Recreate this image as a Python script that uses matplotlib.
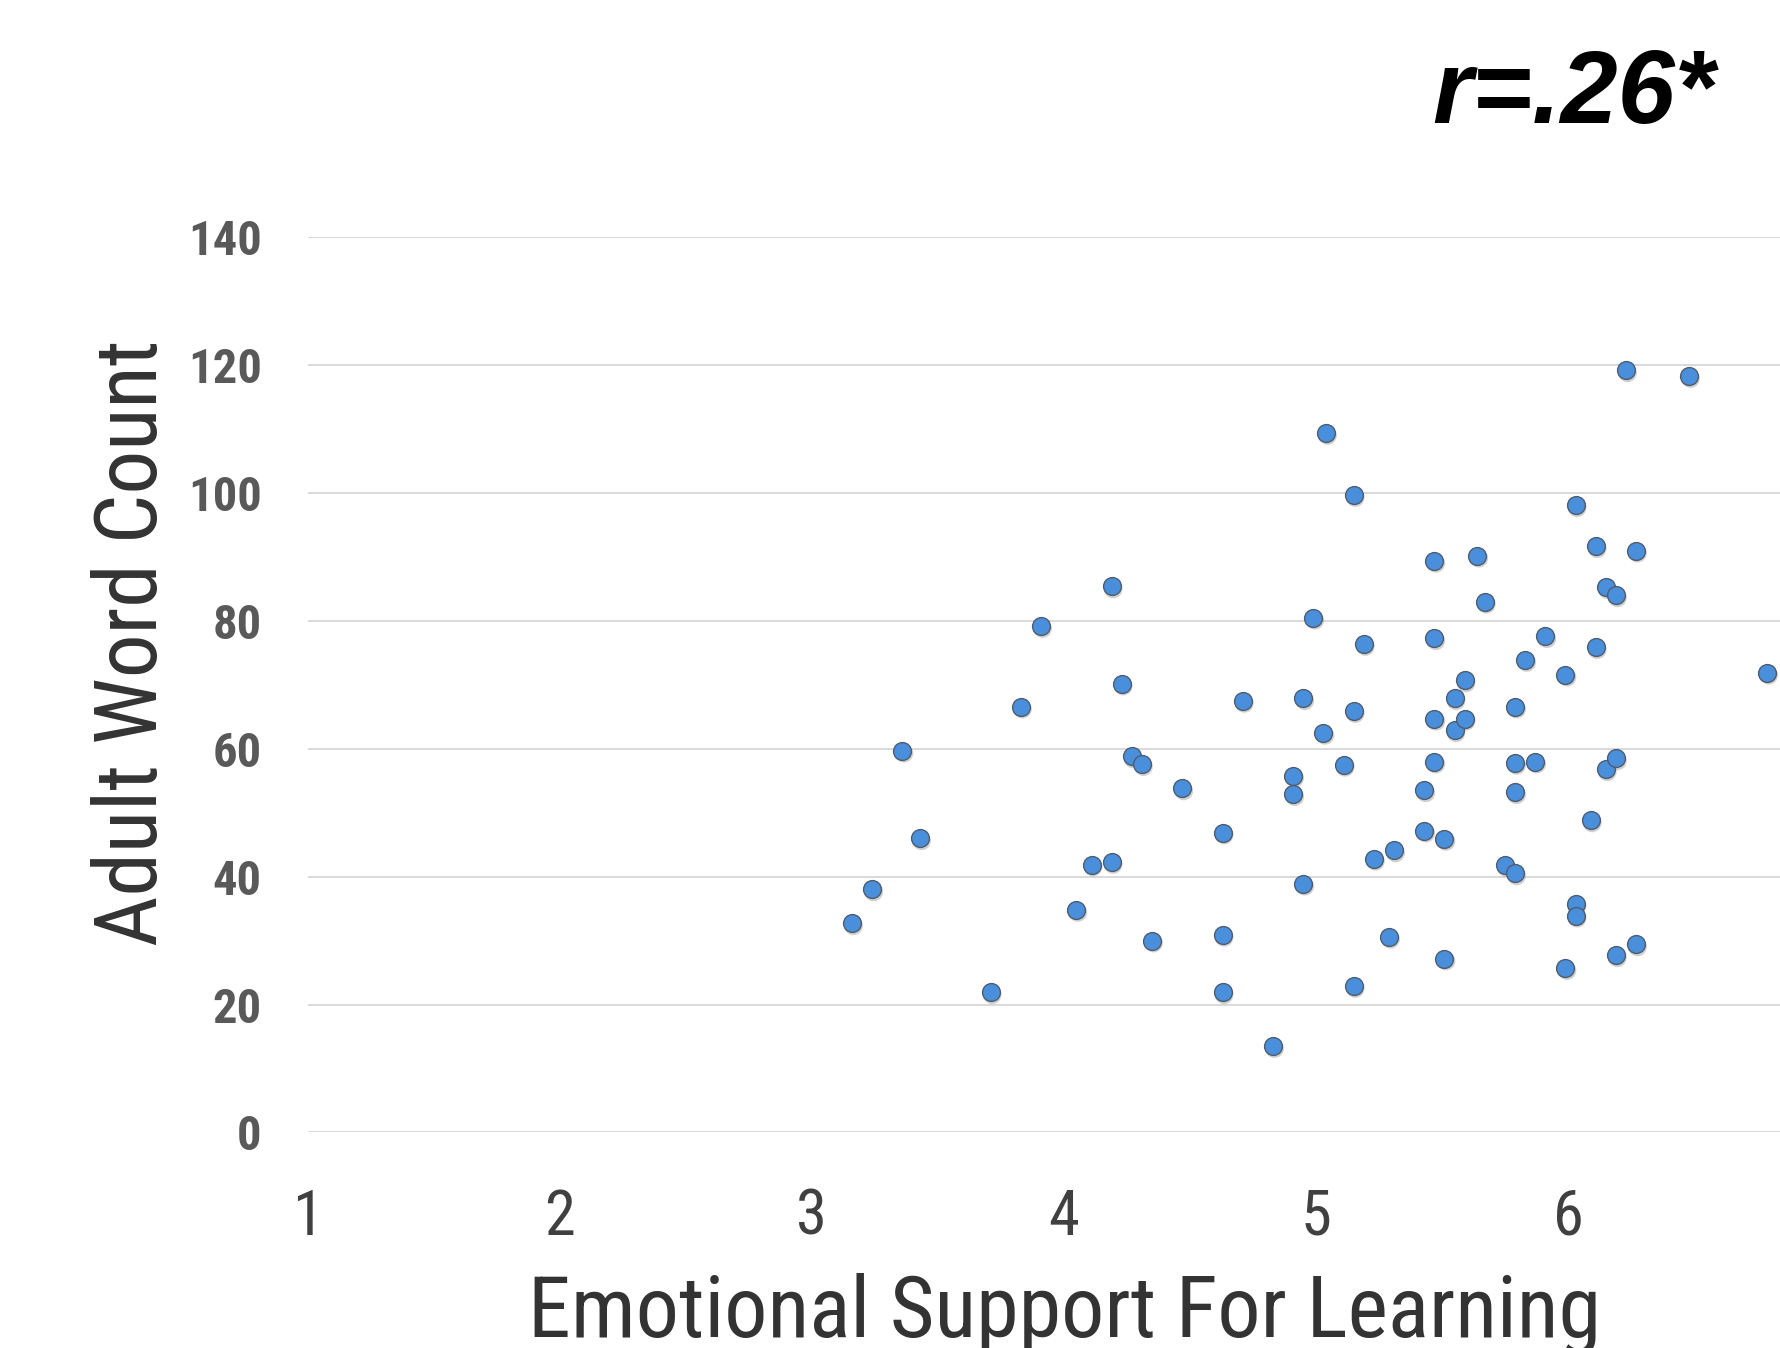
import matplotlib
matplotlib.use("Agg")
import matplotlib.pyplot as plt
from matplotlib import font_manager as fm
from matplotlib.transforms import offset_copy

# ---- data ----
support = [3.16, 3.24, 3.36, 3.43, 3.71, 3.83, 3.91, 4.05, 4.11, 4.19, 4.19, 4.23,
           4.27, 4.31, 4.35, 4.47, 4.63, 4.63, 4.63, 4.71, 4.83, 4.91, 4.91, 4.95,
           4.95, 4.99, 5.03, 5.04, 5.11, 5.15, 5.15, 5.15, 5.19, 5.23, 5.31, 5.29,
           5.43, 5.43, 5.47, 5.47, 5.47, 5.47, 5.51, 5.51, 5.55, 5.55, 5.59, 5.59,
           5.64, 5.67, 5.75, 5.79, 5.79, 5.79, 5.79, 5.83, 5.87, 5.91, 5.99, 5.99,
           6.03, 6.03, 6.03, 6.09, 6.11, 6.11, 6.15, 6.19, 6.15, 6.19, 6.19, 6.23,
           6.27, 6.27, 6.48, 6.79]
words = [32.7, 38.0, 59.7, 46.0, 21.9, 66.6, 79.2, 34.8, 41.9, 42.3, 85.4, 70.2,
         58.8, 57.6, 30.0, 53.8, 46.9, 30.9, 21.9, 67.5, 13.5, 55.8, 52.9, 67.9,
         38.9, 80.5, 62.5, 109.4, 57.5, 99.7, 65.9, 22.9, 76.4, 42.8, 44.1, 30.6,
         53.5, 47.2, 89.4, 77.3, 64.7, 58.0, 45.9, 27.2, 67.9, 62.9, 70.7, 64.7,
         90.2, 83.0, 41.8, 40.5, 66.6, 57.8, 53.2, 73.9, 58.0, 77.6, 71.6, 25.7,
         98.1, 35.8, 33.9, 48.8, 75.9, 91.7, 85.3, 84.0, 56.8, 58.5, 27.7, 119.2,
         91.0, 29.4, 118.3, 71.9]
x_ticks = [1, 2, 3, 4, 5, 6]
y_ticks = [0, 20, 40, 60, 80, 100, 120, 140]
x_label = "Emotional Support For Learning"
y_label = "Adult Word Count"
annotation = "r=.26*"

# ---- fonts ----
available = {f.name for f in fm.fontManager.ttflist}
cond_family = None
cond_stretch = "normal"
for cand in ["Liberation Sans Narrow", "Roboto Condensed", "Open Sans Condensed",
             "DejaVu Sans Condensed"]:
    if cand in available:
        cond_family = cand
        break
if cond_family is None:
    cond_family = "DejaVu Sans"
    cond_stretch = "condensed"
ytick_family = "Roboto Condensed" if "Roboto Condensed" in available else "Open Sans"

fig = plt.figure(figsize=(17.81, 13.48), dpi=100)
fig.patch.set_facecolor("white")
ax = fig.add_axes([0.17266, 0.15994, 0.84930, 0.66395])
ax.set_facecolor("white")

ax.set_xlim(1, 7)
ax.set_ylim(0, 140)
ax.set_yticks(y_ticks)
ax.set_xticks(x_ticks)
ax.grid(axis="y", color="#d9d9d9", linewidth=1.4, zorder=0)
ax.set_axisbelow(True)
for s in ax.spines.values():
    s.set_visible(False)
ax.tick_params(axis="both", length=0)
ax.tick_params(axis="y", pad=33)
ax.tick_params(axis="x", pad=40)

for lab in ax.get_yticklabels():
    lab.set_family(ytick_family)
    lab.set_fontsize(35)
    lab.set_weight("bold")
    lab.set_color("#595959")
for lab in ax.get_xticklabels():
    lab.set_family(cond_family)
    lab.set_stretch(cond_stretch)
    lab.set_fontsize(45)
    lab.set_color("#404040")

# shadow
shadow_tr = offset_copy(ax.transData, fig=fig, x=1.5, y=-2.5, units="dots")
ax.scatter(support, words, s=180, color="#7a7a7a", alpha=0.35, edgecolors="none",
           transform=shadow_tr, zorder=2, clip_on=False)
ax.scatter(support, words, s=165, color="#4a8fdc", edgecolors="#4d5d70",
           linewidths=1.0, zorder=3, clip_on=False)

fig.text(1065 / 1781, 1 - 1337 / 1348, x_label, ha="center", va="baseline",
         family=cond_family, stretch=cond_stretch, fontsize=62, color="#333333")
fig.text(157 / 1781, 1 - 643 / 1348, y_label, ha="center", va="baseline",
         rotation=90, rotation_mode="anchor", family=cond_family,
         stretch=cond_stretch, fontsize=63, color="#333333")
fig.text(1715 / 1781, 1 - 123 / 1348, annotation, ha="right", va="baseline",
         family="Liberation Sans", weight="bold", style="italic", fontsize=74,
         color="black")

fig.savefig("out.png", dpi=100, facecolor="white")
